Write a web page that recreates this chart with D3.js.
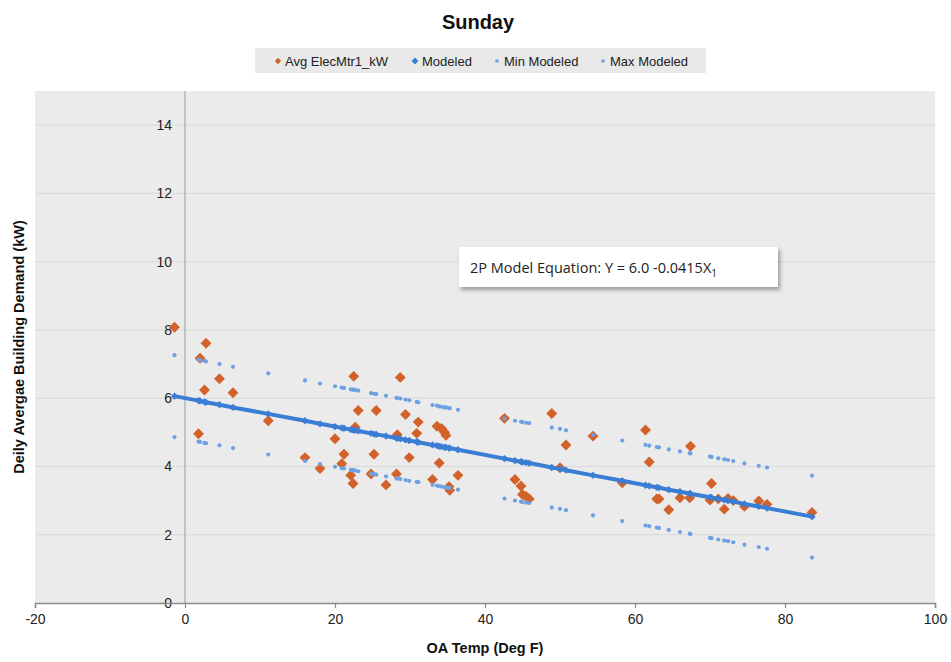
<!DOCTYPE html>
<html>
<head>
<meta charset="utf-8">
<script src="https://cdn.jsdelivr.net/npm/d3@7"></script>
<style>
  html, body { margin: 0; padding: 0; background: #ffffff; }
  svg { display: block; font-family: "Liberation Sans", Arial, sans-serif; }
</style>
</head>
<body>
<svg id="chart" width="951" height="662"></svg>
<script>
// Outside-air temperature of each Sunday (deg F)
const oaTemp = [-1.4, 1.8, 2.0, 2.6, 2.8, 4.6, 6.4, 11.1, 16.0, 18.0, 20.0, 20.9, 21.2, 22.1, 22.4, 22.5, 22.7, 23.1,
  24.8, 25.2, 25.5, 26.8, 28.2, 28.3, 28.7, 29.4, 29.9, 30.9, 31.1, 33.0, 33.6, 33.9, 34.2, 34.6, 34.8, 35.2, 35.3, 36.4,
  42.6, 44.0, 44.8, 45.0, 45.5, 45.9, 48.9, 50.0, 50.8, 54.4, 58.3, 61.4, 61.9, 62.9, 63.2, 64.5, 66.0, 67.3, 67.4,
  70.0, 70.2, 71.1, 71.9, 72.4, 73.1, 74.6, 76.5, 77.6, 83.6];

// Measured daily average demand (kW)
const avgElec = [8.08, 4.96, 7.17, 6.24, 7.61, 6.57, 6.16, 5.34, 4.26, 3.94, 4.81, 4.08, 4.36, 3.74, 3.50, 6.64, 5.15, 5.64,
  3.78, 4.36, 5.64, 3.46, 3.78, 4.93, 6.61, 5.52, 4.26, 4.97, 5.30, 3.62, 5.18, 4.10, 5.11, 5.00, 4.91, 3.41, 3.30, 3.74,
  5.41, 3.62, 3.43, 3.18, 3.12, 3.05, 5.55, 3.96, 4.63, 4.89, 3.52, 5.07, 4.13, 3.05, 3.05, 2.73, 3.08, 3.08, 4.59,
  3.02, 3.50, 3.05, 2.75, 3.06, 3.00, 2.83, 2.99, 2.89, 2.65];

// 2P model: Y = 6.0 - 0.0415 X
const modeled = [6.06, 5.93, 5.92, 5.89, 5.88, 5.81, 5.73, 5.54, 5.34, 5.25, 5.17, 5.13, 5.12, 5.08, 5.07, 5.07, 5.06, 5.04,
  4.97, 4.95, 4.94, 4.89, 4.83, 4.83, 4.81, 4.78, 4.76, 4.72, 4.71, 4.63, 4.61, 4.59, 4.58, 4.56, 4.56, 4.54, 4.54, 4.49,
  4.23, 4.17, 4.14, 4.13, 4.11, 4.10, 3.97, 3.93, 3.89, 3.74, 3.58, 3.45, 3.43, 3.39, 3.38, 3.32, 3.26, 3.21, 3.20,
  3.10, 3.09, 3.05, 3.02, 3.00, 2.97, 2.90, 2.83, 2.78, 2.53];

const minModeled = [4.86, 4.73, 4.72, 4.69, 4.68, 4.62, 4.54, 4.35, 4.16, 4.07, 3.99, 3.95, 3.94, 3.90, 3.89, 3.89, 3.88, 3.86,
  3.79, 3.77, 3.76, 3.71, 3.65, 3.65, 3.63, 3.60, 3.58, 3.55, 3.54, 3.46, 3.44, 3.42, 3.41, 3.39, 3.39, 3.37, 3.37, 3.32,
  3.06, 3.00, 2.97, 2.96, 2.94, 2.93, 2.80, 2.76, 2.72, 2.57, 2.40, 2.27, 2.25, 2.21, 2.20, 2.14, 2.08, 2.03, 2.02,
  1.91, 1.90, 1.86, 1.83, 1.81, 1.78, 1.71, 1.64, 1.59, 1.33];

const maxModeled = [7.26, 7.13, 7.12, 7.09, 7.08, 7.00, 6.92, 6.73, 6.52, 6.43, 6.35, 6.31, 6.30, 6.26, 6.25, 6.25, 6.24, 6.22,
  6.15, 6.13, 6.12, 6.07, 6.01, 6.01, 5.99, 5.96, 5.94, 5.89, 5.88, 5.80, 5.78, 5.76, 5.75, 5.73, 5.73, 5.71, 5.71, 5.66,
  5.40, 5.34, 5.31, 5.30, 5.28, 5.27, 5.14, 5.10, 5.06, 4.92, 4.76, 4.63, 4.61, 4.57, 4.56, 4.50, 4.44, 4.39, 4.38,
  4.29, 4.28, 4.24, 4.21, 4.19, 4.16, 4.09, 4.02, 3.97, 3.73];

const xTicks = [-20, 0, 20, 40, 60, 80, 100];
const yTicks = [0, 2, 4, 6, 8, 10, 12, 14];
const legendLabels = ["Avg ElecMtr1_kW", "Modeled", "Min Modeled", "Max Modeled"];

const ORANGE = "#d3622a";
const BLUE = "#3a7dd5";
const LIGHT_BLUE = "#6ea1e3";

const svg = d3.select("#chart");
const plot = { left: 35, right: 935, top: 91, bottom: 603 };

const x = d3.scaleLinear().domain([-20, 100]).range([plot.left, plot.right]);
const y = d3.scaleLinear().domain([0, 15]).range([plot.bottom, plot.top]);

// Plot area background
svg.append("rect")
  .attr("x", plot.left).attr("y", plot.top)
  .attr("width", plot.right - plot.left).attr("height", plot.bottom - plot.top)
  .attr("fill", "#ebebeb");

// Horizontal gridlines
svg.append("g").selectAll("line")
  .data(yTicks.filter(d => d > 0))
  .join("line")
  .attr("x1", plot.left).attr("x2", plot.right)
  .attr("y1", d => y(d)).attr("y2", d => y(d))
  .attr("stroke", "#d9d9d9").attr("stroke-width", 1);

// Vertical axis at x = 0
svg.append("line")
  .attr("x1", x(0)).attr("x2", x(0))
  .attr("y1", plot.top).attr("y2", plot.bottom)
  .attr("stroke", "#a6a6a6").attr("stroke-width", 1.2);

// Y tick labels sit beside the x = 0 axis
svg.append("g").selectAll("text")
  .data(yTicks)
  .join("text")
  .attr("x", x(0) - 13)
  .attr("y", d => y(d))
  .attr("dy", "0.35em")
  .attr("text-anchor", "end")
  .attr("font-size", 14)
  .attr("fill", "#222")
  .text(d => d);

// X axis along y = 0
const xAxis = d3.axisBottom(x).tickValues(xTicks).tickSize(5).tickPadding(6).tickFormat(d3.format("d"));
const gx = svg.append("g").attr("transform", `translate(0,${y(0)})`).call(xAxis);
gx.select(".domain").attr("stroke", "#8c8c8c").attr("stroke-width", 1.5);
gx.selectAll(".tick line").attr("stroke", "#8c8c8c").attr("stroke-width", 1.2);
gx.selectAll(".tick text")
  .attr("font-size", 14).attr("fill", "#222")
  .attr("font-family", "'Liberation Sans', Arial, sans-serif")
  .text(d => d < 0 ? "-" + Math.abs(d) : d);

const pts = oaTemp.map((t, i) => ({ t, a: avgElec[i], m: modeled[i], lo: minModeled[i], hi: maxModeled[i] }));
const diamond = s => d3.symbol().type(d3.symbolDiamond2).size(s)();

// Measured demand
svg.append("g").selectAll("path")
  .data(pts)
  .join("path")
  .attr("d", diamond(76))
  .attr("transform", d => `translate(${x(d.t)},${y(d.a)})`)
  .attr("fill", ORANGE);

// Modeled line and markers
const sorted = pts.slice().sort((a, b) => a.t - b.t);
svg.append("path")
  .datum(sorted)
  .attr("d", d3.line().x(d => x(d.t)).y(d => y(d.m)))
  .attr("fill", "none")
  .attr("stroke", BLUE)
  .attr("stroke-width", 4)
  .attr("stroke-linecap", "round");

svg.append("g").selectAll("path")
  .data(pts)
  .join("path")
  .attr("d", diamond(34))
  .attr("transform", d => `translate(${x(d.t)},${y(d.m)})`)
  .attr("fill", BLUE);

// Min / Max modeled bands
svg.append("g").selectAll("circle")
  .data(pts)
  .join("circle")
  .attr("cx", d => x(d.t)).attr("cy", d => y(d.lo))
  .attr("r", 2.1).attr("fill", LIGHT_BLUE);

svg.append("g").selectAll("circle")
  .data(pts)
  .join("circle")
  .attr("cx", d => x(d.t)).attr("cy", d => y(d.hi))
  .attr("r", 2.1).attr("fill", LIGHT_BLUE);

// Title
svg.append("text")
  .attr("x", 478).attr("y", 29)
  .attr("text-anchor", "middle")
  .attr("font-size", 20).attr("font-weight", "bold").attr("fill", "#111")
  .text("Sunday");

// Legend
const legend = svg.append("g");
legend.append("rect")
  .attr("x", 255).attr("y", 48).attr("width", 451).attr("height", 25)
  .attr("fill", "#e9e9e9");
const legendItems = [
  { label: legendLabels[0], x: 278, kind: "diamond", color: ORANGE, size: 26 },
  { label: legendLabels[1], x: 415, kind: "diamond", color: BLUE, size: 30 },
  { label: legendLabels[2], x: 497, kind: "dot", color: LIGHT_BLUE },
  { label: legendLabels[3], x: 603, kind: "dot", color: LIGHT_BLUE }
];
legendItems.forEach(it => {
  if (it.kind === "diamond") {
    legend.append("path").attr("d", diamond(it.size))
      .attr("transform", `translate(${it.x},61)`).attr("fill", it.color);
  } else {
    legend.append("circle").attr("cx", it.x).attr("cy", 61).attr("r", 1.8).attr("fill", it.color);
  }
  legend.append("text")
    .attr("x", it.x + 7).attr("y", 61).attr("dy", "0.35em")
    .attr("font-size", 13).attr("fill", "#222")
    .text(it.label);
});

// Axis titles
svg.append("text")
  .attr("x", 485).attr("y", 653)
  .attr("text-anchor", "middle")
  .attr("font-size", 14.5).attr("font-weight", "bold").attr("fill", "#111")
  .text("OA Temp (Deg F)");

svg.append("text")
  .attr("transform", "translate(24,347) rotate(-90)")
  .attr("text-anchor", "middle")
  .attr("font-size", 14.5).attr("font-weight", "bold").attr("fill", "#111")
  .text("Deily Avergae Building Demand (kW)");

// Model equation box
const defs = svg.append("defs");
const f = defs.append("filter").attr("id", "shadow").attr("x", "-10%").attr("y", "-30%").attr("width", "130%").attr("height", "180%");
f.append("feDropShadow").attr("dx", 2).attr("dy", 3).attr("stdDeviation", 2.2).attr("flood-color", "#000").attr("flood-opacity", 0.35);

svg.append("rect")
  .attr("x", 459).attr("y", 247).attr("width", 319).attr("height", 40)
  .attr("fill", "#ffffff").attr("filter", "url(#shadow)");

const eq = svg.append("text")
  .attr("x", 470).attr("y", 273)
  .attr("font-family", "'Open Sans', 'Noto Sans', sans-serif")
  .attr("font-size", 14.5).attr("fill", "#222");
eq.append("tspan").text("2P Model Equation: Y = 6.0 -0.0415X");
eq.append("tspan").attr("font-size", 10).attr("dy", 4).text("1");
</script>
</body>
</html>
